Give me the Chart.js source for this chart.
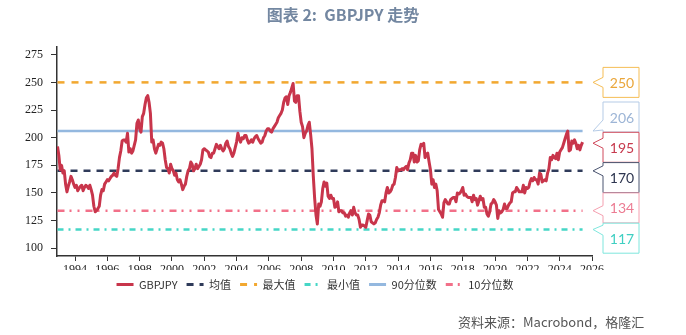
<!DOCTYPE html>
<html>
<head>
<meta charset="utf-8">
<script src="https://cdn.jsdelivr.net/npm/chart.js"></script>
<style>
  html, body { margin: 0; padding: 0; background: #fff; }
  #wrap { position: relative; width: 686px; height: 335px; }
  canvas { position: absolute; left: 0; top: 0; }
  #title { position: absolute; left: 0; top: 2px; width: 686px; text-align: center;
           font: bold 16px "Noto Sans CJK SC"; color: #7387a1; }
  #source { position: absolute; left: 458px; top: 312px; font: 13px "Noto Sans CJK SC"; color: #555; }
</style>
</head>
<body>
<div id="wrap">
  <canvas id="chart" width="686" height="335"></canvas>
  <div id="title">图表 2:&nbsp; GBPJPY 走势</div>
  <div id="source">资料来源：Macrobond，格隆汇</div>
</div>
<script>
// monthly GBPJPY, first point Dec 1992
const startYear = 1992 + 11 / 12;
const gbpjpy = [
  192,
  184, 171, 175, 168, 170, 158, 151, 156, 160, 165, 162, 158, // 1993
  155, 157, 152, 154, 156, 157, 152, 155, 157, 156, 154, 157, // 1994
  153, 148, 138, 133, 134, 136, 138, 148, 153, 152, 158, 160, // 1995
  162, 161, 163, 165, 166, 168, 166, 165, 172, 182, 188, 197, // 1996
  198, 198, 196, 204, 187, 190, 186, 188, 193, 198, 213, 216, // 1997
  208, 205, 219, 222, 230, 236, 238, 232, 222, 196, 198, 190, // 1998
  186, 190, 194, 193, 196, 195, 190, 180, 173, 172, 168, 176, // 1999
  172, 170, 166, 168, 162, 160, 162, 158, 153, 156, 158, 165, // 2000
  170, 172, 178, 176, 170, 172, 176, 172, 174, 176, 180, 189, // 2001
  190, 189, 188, 187, 183, 182, 186, 186, 190, 194, 192, 190, // 2002
  193, 190, 188, 190, 195, 197, 192, 190, 186, 183, 186, 191, // 2003
  196, 204, 199, 196, 200, 199, 202, 202, 198, 195, 196, 198, // 2004
  196, 199, 201, 202, 199, 197, 195, 196, 200, 202, 206, 208, // 2005
  208, 206, 205, 208, 210, 212, 214, 218, 220, 222, 225, 232, // 2006
  236, 237, 230, 238, 241, 245, 249, 233, 232, 238, 238, 224, // 2007
  214, 210, 200, 204, 206, 211, 214, 203, 190, 165, 145, 130, // 2008
  122, 140, 138, 142, 154, 160, 156, 159, 147, 145, 148, 145, // 2009
  145, 137, 138, 142, 133, 134, 134, 132, 132, 129, 130, 128, // 2010
  132, 134, 130, 137, 132, 130, 130, 126, 119, 121, 121, 120, // 2011
  119, 125, 131, 130, 124, 123, 122, 123, 126, 128, 132, 139, // 2012
  143, 143, 142, 150, 155, 150, 151, 153, 157, 158, 164, 173, // 2013
  170, 171, 171, 172, 171, 173, 174, 171, 177, 180, 186, 186, // 2014
  178, 184, 178, 179, 189, 194, 193, 195, 182, 185, 186, 178, // 2015
  171, 158, 162, 155, 158, 152, 135, 133, 131, 128, 141, 144, // 2016
  142, 140, 140, 144, 145, 146, 146, 142, 150, 149, 150, 152, // 2017
  155, 148, 149, 147, 146, 146, 146, 142, 148, 144, 145, 139, // 2018
  143, 147, 144, 145, 137, 137, 131, 129, 133, 140, 141, 144, // 2019
  142, 139, 127, 134, 132, 133, 135, 140, 136, 136, 139, 141, // 2020
  142, 150, 151, 151, 155, 153, 151, 151, 151, 157, 150, 155, // 2021
  154, 155, 160, 163, 161, 164, 162, 162, 158, 168, 167, 160, // 2022
  161, 162, 161, 168, 172, 182, 180, 184, 182, 181, 186, 180, // 2023
  187, 189, 191, 195, 199, 203, 206, 188, 189, 197, 195, 198, // 2024
  195, 190, 193, 189, 193, 196                                // 2025
];

const refNames = ["均值", "最大值", "最小值", "90分位数", "10分位数"];
const refValues = [170, 250, 117, 206, 134];
const refColors = ["#2f3b5a", "#f2a830", "#45d6c6", "#94b8df", "#f27089"];
const refDashes = [[7, 6], [7, 7], [6, 5, 2, 5], [], [7, 5, 2, 6, 2, 6]];

const yearTicks = [1994, 1996, 1998, 2000, 2002, 2004, 2006, 2008, 2010,
  2012, 2014, 2016, 2018, 2020, 2022, 2024, 2026];
const valueTicks = [100, 125, 150, 175, 200, 225, 250, 275];

// right-hand value tags: 最大值, 90分位数, 最新, 均值, 10分位数, 最小值
const tagValues = [250, 206, 195, 170, 134, 117];
const tagBorders = ["#f5bd55", "#b5cbe6", "#d04a5c", "#4b5470", "#f4a0b0", "#7fe6dd"];
const tagTexts = ["#eaa63a", "#9db5d6", "#c73a4e", "#2e3650", "#ec7c93", "#3fcfc2"];

const points = gbpjpy.map((v, i) => ({ x: startYear + i / 12, y: v }));
const endYear = points[points.length - 1].x;

const refSets = refNames.map((name, i) => ({
  label: name,
  data: [{ x: startYear, y: refValues[i] }, { x: endYear, y: refValues[i] }],
  borderColor: refColors[i],
  backgroundColor: refColors[i],
  borderWidth: 2.5,
  borderDash: refDashes[i],
  pointRadius: 0,
}));

const tags = {
  id: "tags",
  afterDraw(chart) {
    const { ctx, chartArea, scales } = chart;
    const left = chartArea.right + 11, w = 36, h = 30;
    tagValues.forEach((v, i) => {
      const tipY = scales.y.getPixelForValue(v);
      const top = i === 0 ? tipY - h / 2 : chartArea.top + 55 + (i - 1) * 30.3;
      const bottom = top + h;
      const n1 = Math.max(top + 2, Math.min(tipY - 5, bottom - 12));
      const n2 = n1 + 10;
      ctx.save();
      ctx.beginPath();
      ctx.moveTo(left, top);
      ctx.lineTo(left + w, top);
      ctx.lineTo(left + w, bottom);
      ctx.lineTo(left, bottom);
      ctx.lineTo(left, n2);
      ctx.lineTo(left - 10, tipY);
      ctx.lineTo(left, n1);
      ctx.closePath();
      ctx.fillStyle = "#fff";
      ctx.fill();
      ctx.lineWidth = 1;
      ctx.strokeStyle = tagBorders[i];
      ctx.stroke();
      ctx.fillStyle = tagTexts[i];
      ctx.font = "14px Lato";
      ctx.textAlign = "center";
      ctx.textBaseline = "middle";
      ctx.fillText(String(v), left + w / 2 + 1, top + h / 2 + 1);
      ctx.restore();
    });
  }
};

new Chart(document.getElementById("chart"), {
  type: "line",
  data: {
    datasets: [
      {
        label: "GBPJPY",
        data: points,
        borderColor: "#c8354b",
        backgroundColor: "#c8354b",
        borderWidth: 3,
        borderJoinStyle: "round",
        pointRadius: 0,
      },
      ...refSets,
    ],
  },
  options: {
    responsive: false,
    animation: false,
    layout: { padding: { top: 47, right: 56, bottom: 35, left: 0 } },
    scales: {
      x: {
        type: "linear",
        min: 1992.885,
        max: 2026,
        afterBuildTicks: (s) => { s.ticks = yearTicks.map((v) => ({ value: v })); },
        afterFit: (s) => { s.height = 14; },
        grid: { drawOnChartArea: false, drawTicks: true, tickLength: 5, color: "#333" },
        border: { color: "#333", width: 1.5 },
        ticks: {
          font: { family: "Liberation Serif", size: 12 },
          color: "#222",
          padding: 2,
          maxRotation: 0,
          autoSkip: false,
          callback: (v) => String(v),
        },
      },
      y: {
        min: 93,
        max: 282,
        afterBuildTicks: (s) => { s.ticks = valueTicks.map((v) => ({ value: v })); },
        afterFit: (s) => { s.width = 57; },
        grid: { drawOnChartArea: false, drawTicks: true, tickLength: 6, color: "#333" },
        border: { color: "#333", width: 1.5 },
        ticks: {
          font: { family: "Liberation Serif", size: 12 },
          color: "#222",
          padding: 8,
          callback: (v) => String(v),
        },
      },
      yR: {
        position: "right",
        display: true,
        afterFit: (s) => { s.width = 38; },
        grid: { display: false },
        border: { display: false },
        ticks: { display: false },
      },
    },
    plugins: {
      legend: {
        position: "bottom",
        labels: {
          usePointStyle: true,
          pointStyle: "line",
          pointStyleWidth: 17,
          padding: 9,
          color: "#333",
          font: { family: "Noto Sans CJK SC", size: 11 },
          generateLabels: (chart) => {
            const items = Chart.defaults.plugins.legend.labels.generateLabels(chart);
            items.forEach((it) => {
              const ds = chart.data.datasets[it.datasetIndex];
              it.lineWidth = 3;
              it.lineDash = ds.borderDash || [];
              it.strokeStyle = ds.borderColor;
            });
            return items;
          },
        },
      },
      tooltip: { enabled: false },
    },
  },
  plugins: [tags],
});
</script>
</body>
</html>
